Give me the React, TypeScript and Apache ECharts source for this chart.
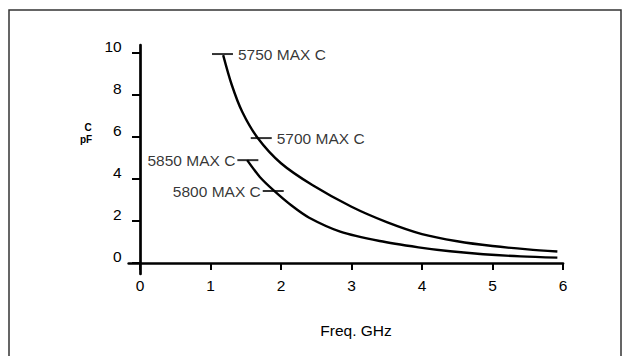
import React, { useEffect, useRef } from "react";
import * as echarts from "echarts";

const xTicks = [0, 1, 2, 3, 4, 5, 6];
const yTicks = [0, 2, 4, 6, 8, 10];

const upperFreq = [1.18, 1.3, 1.45, 1.67, 2.0, 2.45, 3.0, 3.5, 4.0, 4.5, 5.0, 5.5, 5.92];
const upperCap = [9.9, 8.5, 7.2, 5.95, 4.75, 3.7, 2.68, 1.95, 1.38, 1.04, 0.81, 0.65, 0.55];

const lowerFreq = [1.52, 1.7, 1.9, 2.15, 2.4, 2.84, 3.4, 3.95, 4.4, 4.87, 5.4, 5.92];
const lowerCap = [4.9, 4.1, 3.45, 2.74, 2.16, 1.5, 1.05, 0.75, 0.56, 0.42, 0.32, 0.26];

const markFreq = [1.17, 1.72, 1.53, 1.89];
const markCap = [9.95, 5.95, 4.9, 3.43];
const markText = ["5750 MAX C", "5700 MAX C", "5850 MAX C", "5800 MAX C"];
const markSide = ["right", "right", "left", "left"];

const xTitle = "Freq. GHz";
const yTitleTop = "C";
const yTitleBottom = "pF";

const FONT = "'Liberation Sans', Arial, Helvetica, sans-serif";

export default function App() {
  const ref = useRef<HTMLDivElement>(null);
  useEffect(() => {
    if (!ref.current) return;
    const chart = echarts.init(ref.current, null, { renderer: "svg" });
    const pair = (xs: number[], ys: number[]) => xs.map((x, i) => [x, ys[i]]);
    const curveStyle = { color: "#000", width: 2.4 };
    chart.setOption({
      animation: false,
      backgroundColor: "#fff",
      grid: { left: 128.7, right: 59, top: 45, bottom: 82 },
      xAxis: {
        type: "value",
        min: -0.16,
        max: 6,
        axisLine: { onZero: true, lineStyle: { color: "#000", width: 2.7 } },
        axisTick: { customValues: xTicks, length: 7, lineStyle: { color: "#000", width: 2 } },
        axisLabel: {
          customValues: xTicks,
          margin: 3,
          color: "#000",
          fontSize: 15.5,
          fontFamily: FONT,
        },
        splitLine: { show: false },
      },
      yAxis: {
        type: "value",
        min: -0.52,
        max: 10.38,
        axisLine: { onZero: true, lineStyle: { color: "#000", width: 2.7 } },
        axisTick: { customValues: yTicks, length: 8, lineStyle: { color: "#000", width: 2 } },
        axisLabel: {
          customValues: yTicks,
          margin: 7,
          color: "#000",
          fontSize: 15.5,
          fontFamily: FONT,
          verticalAlign: "bottom",
          lineHeight: 13,
        },
        splitLine: { show: false },
      },
      graphic: [
        {
          type: "rect",
          silent: true,
          shape: { x: 9, y: 10, width: 612, height: 420 },
          style: { fill: "none", stroke: "#333", lineWidth: 1.5 },
        },
        {
          type: "text",
          x: 356,
          y: 330,
          style: {
            text: xTitle,
            fill: "#000",
            font: `15.5px ${FONT}`,
            textAlign: "center",
            textVerticalAlign: "middle",
          },
        },
        {
          type: "text",
          x: 88,
          y: 127,
          style: {
            text: yTitleTop,
            fill: "#000",
            font: `bold 10px ${FONT}`,
            textAlign: "center",
            textVerticalAlign: "middle",
          },
        },
        {
          type: "text",
          x: 86,
          y: 139,
          style: {
            text: yTitleBottom,
            fill: "#000",
            font: `bold 10px ${FONT}`,
            textAlign: "center",
            textVerticalAlign: "middle",
          },
        },
      ],
      series: [
        {
          type: "line",
          data: pair(upperFreq, upperCap),
          showSymbol: false,
          smooth: 0.3,
          lineStyle: curveStyle,
          silent: true,
        },
        {
          type: "line",
          data: pair(lowerFreq, lowerCap),
          showSymbol: false,
          smooth: 0.3,
          lineStyle: curveStyle,
          silent: true,
        },
        {
          type: "scatter",
          symbol: "rect",
          symbolSize: [21, 2],
          itemStyle: { color: "#000" },
          silent: true,
          data: markFreq.map((f, i) => ({
            value: [f, markCap[i]],
            label: {
              show: true,
              formatter: markText[i],
              position: markSide[i],
              distance: markSide[i] === "right" ? 5 : 2,
              color: "#000",
              fontSize: 15.5,
              fontFamily: FONT,
            },
          })),
        },
      ],
    });
    return () => chart.dispose();
  }, []);
  return (
    <div
      ref={ref}
      style={{ position: "fixed", left: 0, top: 0, width: 622, height: 356 }}
    />
  );
}
